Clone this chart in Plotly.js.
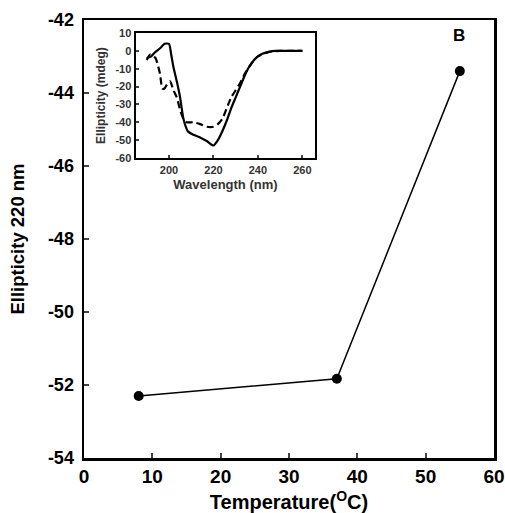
<!DOCTYPE html>
<html><head><meta charset="utf-8">
<script src="https://cdn.plot.ly/plotly-3.0.1.min.js"></script>
<style>html,body{margin:0;padding:0;background:#fff}</style>
</head><body><div id="chart" style="width:505px;height:513px"></div>
<script>
// Main chart data
const temperature = [8, 37, 55];
const ellipticity220 = [-52.3, -51.83, -43.4];

// Inset: CD spectra
const wlSolid = [190, 192, 193.5, 196, 198, 200, 201, 202, 203.5, 205, 206.5, 208.5, 211, 214, 217, 220, 222, 224, 226, 228, 230, 232, 234, 236, 238, 240, 242, 245, 248, 252, 256, 260];
const cdSolid = [-4, -3, -1, 1.5, 4, 4, -2, -9, -17, -26, -38, -45, -47, -48.5, -50.5, -53, -50, -45, -39, -32, -26, -20, -14, -9, -5.5, -3, -1.5, -0.5, 0, 0, 0, 0];
const wlDashed = [190, 191.5, 193, 194, 195, 196, 197, 198, 199, 200.5, 202, 203.5, 205, 206.5, 208, 211, 214, 217, 220, 222, 224, 226, 228, 230, 232, 234, 236, 238, 240, 245, 250, 260];
const cdDashed = [-5, -2, -3, -4, -8, -13, -21, -21, -19, -17, -22, -26, -33, -38, -40, -40, -41, -42.5, -42.5, -41, -38, -32, -26, -22, -18, -13, -9, -5.5, -3, -0.5, 0, 0];

const mainTicksY = [-54, -52, -50, -48, -46, -44, -42];
const mainTicksX = [0, 10, 20, 30, 40, 50, 60];
const insetTicksY = [-60, -50, -40, -30, -20, -10, 0, 10];
const insetTicksX = [200, 220, 240, 260];

const lbl = v => String(v);  // String() keeps ASCII hyphen minus

const F = 'Liberation Sans, Arial, sans-serif';
const traces = [
  {x: temperature, y: ellipticity220, type: 'scatter', mode: 'lines+markers',
   line: {color: '#000', width: 1.5}, marker: {color: '#000', size: 10},
   xaxis: 'x', yaxis: 'y', hoverinfo: 'none'},
  {x: wlSolid, y: cdSolid, type: 'scatter', mode: 'lines',
   line: {color: '#000', width: 2.2, shape: 'spline', smoothing: 0.6}, xaxis: 'x2', yaxis: 'y2', hoverinfo: 'none'},
  {x: wlDashed, y: cdDashed, type: 'scatter', mode: 'lines',
   line: {color: '#000', width: 2.2, dash: '7px,4px', shape: 'spline', smoothing: 0.6}, xaxis: 'x2', yaxis: 'y2', hoverinfo: 'none'}
];

const layout = {
  width: 505, height: 513,
  margin: {l: 84, r: 11, t: 20, b: 55},
  showlegend: false,
  paper_bgcolor: '#fff', plot_bgcolor: '#fff',
  font: {family: F, color: '#000'},
  xaxis: {range: [0, 60], tickvals: mainTicksX, ticktext: mainTicksX.map(lbl), ticks: 'inside', ticklen: 5, tickwidth: 2,
    showline: true, linewidth: 2.5, linecolor: '#000', mirror: true, showgrid: false, zeroline: false,
    tickfont: {size: 19, family: F, weight: 'bold'},
    title: {text: '<b>Temperature(<sup>O</sup>C)</b>', font: {size: 20, family: F}, standoff: 12}},
  yaxis: {range: [-54, -42], tickvals: mainTicksY, ticktext: mainTicksY.map(lbl), ticks: 'inside', ticklen: 5, tickwidth: 2,
    showline: true, linewidth: 2.5, linecolor: '#000', mirror: true, showgrid: false, zeroline: false,
    tickfont: {size: 18, family: F, weight: 'bold'}, ticklabelstandoff: 4,
    title: {text: '<b>Ellipticity 220 nm</b>', font: {size: 18.5, family: F}, standoff: 19}},
  xaxis2: {domain: [0.127, 0.563], anchor: 'y2', range: [185.2, 265.6], tickvals: insetTicksX, ticktext: insetTicksX.map(lbl),
    ticks: 'inside', ticklen: 3, tickwidth: 2,
    showline: true, linewidth: 2.5, linecolor: '#000', mirror: true, showgrid: false, zeroline: false,
    tickfont: {size: 11, family: F, color: '#333', weight: 'bold'},
    title: {text: '<b>Wavelength (nm)</b>', font: {size: 13, family: F, color: '#333'}, standoff: 5}},
  yaxis2: {domain: [0.685, 0.970], anchor: 'x2', range: [-60, 10], tickvals: insetTicksY, ticktext: insetTicksY.map(lbl),
    ticks: 'inside', ticklen: 3, tickwidth: 2,
    showline: true, linewidth: 2.5, linecolor: '#000', mirror: true, showgrid: false, zeroline: false,
    tickfont: {size: 11, family: F, color: '#333', weight: 'bold'},
    title: {text: '<b>Ellipticity (mdeg)</b>', font: {size: 12, family: F, color: '#333'}, standoff: 8}},
  annotations: [
    {text: '<b>B</b>', xref: 'paper', yref: 'paper', x: 0.915, y: 0.965, xanchor: 'center', yanchor: 'middle',
     showarrow: false, font: {size: 17, family: F}}
  ]
};

Plotly.newPlot('chart', traces, layout, {displayModeBar: false, staticPlot: true});
</script></body></html>
